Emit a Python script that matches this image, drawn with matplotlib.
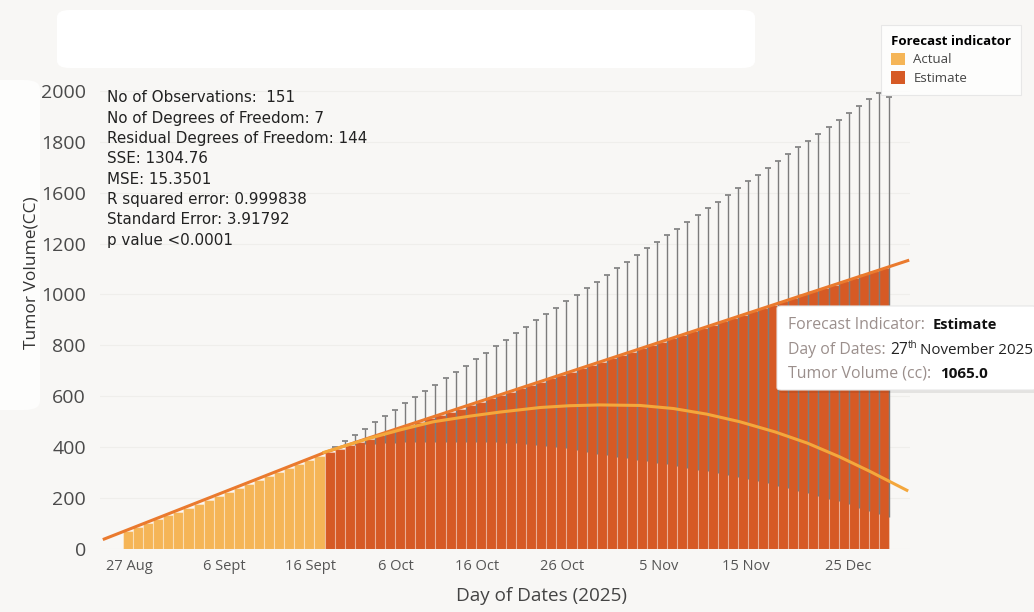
import matplotlib
matplotlib.use('Agg')
import matplotlib.pyplot as plt
import numpy as np
from matplotlib.patches import FancyBboxPatch, Patch

plt.rcParams['font.family'] = ['Open Sans', 'DejaVu Sans']

# observed tumour volume (cc), one bar per day
actual_vol = [70, 85, 101, 116, 132, 147, 163, 178, 194, 209,
              225, 240, 256, 271, 287, 302, 318, 333, 349, 364]
# forecast tumour volume (cc)
estimate_vol = [381, 394, 407, 420, 434, 447, 460, 473, 486, 499,
                513, 526, 539, 552, 565, 578, 592, 605, 618, 631,
                644, 657, 671, 684, 697, 710, 723, 736, 750, 763,
                776, 789, 802, 815, 829, 842, 855, 868, 881, 894,
                908, 921, 934, 947, 960, 973, 987, 1000, 1013, 1026,
                1039, 1052, 1065, 1079, 1092, 1105]
# forecast interval, lower and upper bound per estimate bar
err_low = [402, 406, 409, 412, 414, 416, 418, 419, 420, 421,
           422, 422, 422, 422, 421, 420, 419, 417, 415, 412,
           410, 406, 401, 395, 389, 382, 375, 369, 363, 357,
           351, 345, 339, 333, 327, 319, 312, 305, 298, 291,
           284, 276, 267, 258, 249, 239, 229, 219, 209, 198,
           188, 176, 163, 151, 138, 125]
err_high = [400, 424, 449, 473, 498, 522, 547, 572, 597, 621,
            646, 671, 696, 721, 746, 771, 796, 822, 847, 872,
            898, 923, 948, 974, 999, 1026, 1051, 1077, 1103, 1129,
            1155, 1181, 1207, 1234, 1259, 1286, 1312, 1338, 1365, 1392,
            1417, 1444, 1471, 1497, 1524, 1551, 1578, 1605, 1632, 1659,
            1686, 1713, 1740, 1768, 1790, 1775]

# fitted trend and the second model curve
trend_pos = [-2.5, 19.5, 77.5]
trend_vol = [37, 379, 1135]
curve_pos = [19.3, 21.5, 23.7, 27.0, 30.3, 33.9, 36.9, 40.9, 43.8, 46.8,
             50.8, 54.1, 57.4, 60.7, 64.2, 67.4, 70.6, 73.6, 77.4]
curve_vol = [378, 405, 432, 468, 500, 522, 538, 556, 563, 566,
             564, 552, 530, 500, 460, 416, 362, 305, 228]

tick_pos = [0.1, 9.6, 18.1, 26.6, 34.6, 43.1, 52.6, 61.3, 71.4]
tick_labels = ['27 Aug', '6 Sept', '16 Sept', '6 Oct', '16 Oct',
               '26 Oct', '5 Nov', '15 Nov', '25 Dec']
ytick_vals = [0, 200, 400, 600, 800, 1000, 1200, 1400, 1600, 1800]
ytick_labels = ['0', '200', '400', '600', '800', '1000', '1200',
                '1600', '1800', '2000']

stats = ['No of Observations:  151',
         'No of Degrees of Freedom: 7',
         'Residual Degrees of Freedom: 144',
         'SSE: 1304.76',
         'MSE: 15.3501',
         'R squared error: 0.999838',
         'Standard Error: 3.91792',
         'p value <0.0001']

c_actual = '#f5b557'
c_estimate = '#d65a25'
c_trend = '#ea7a2e'
c_curve = '#f4a73c'
c_err = '#7c7c7c'

W, H = 1034, 612
fig = plt.figure(figsize=(W / 100, H / 100), dpi=100, facecolor='#f8f7f5')


def fx(px):
    return px / W


def fy(py):
    return 1 - py / H


# white panels behind the header area and the y label
fig.patches.append(FancyBboxPatch((fx(57), fy(68)), fx(698), 58 / H,
                                  boxstyle='round,pad=0,rounding_size=0.012',
                                  transform=fig.transFigure, fc='white', ec='none', zorder=0))
fig.patches.append(FancyBboxPatch((fx(-20), fy(410)), fx(60), 330 / H,
                                  boxstyle='round,pad=0,rounding_size=0.015',
                                  transform=fig.transFigure, fc='#fdfdfc', ec='none', zorder=0))

ax = fig.add_axes([fx(100), 63 / H, fx(810), 466 / H])
ax.set_facecolor('none')
ax.set_xlim(-2.78, 77.58)
ax.set_ylim(0, 1831)

act_idx = np.arange(len(actual_vol))
est_idx = np.arange(len(actual_vol), len(actual_vol) + len(estimate_vol))

ax.bar(act_idx, actual_vol, width=1.0, color=c_actual,
       edgecolor=(1, 1, 1, 0.35), linewidth=0.8, zorder=2)
ax.bar(est_idx, estimate_vol, width=1.0, color=c_estimate,
       edgecolor=(1, 1, 1, 0.3), linewidth=0.8, zorder=2)

# forecast interval lines sit on the bar boundaries
ax.vlines(est_idx + 0.5, err_low, err_high, colors=c_err, linewidth=1.0, zorder=3)
ax.plot(est_idx + 0.5, err_high, ls='none', marker='_', ms=4, mew=1.2,
        color=c_err, zorder=3)

ax.plot(trend_pos, trend_vol, color=c_trend, lw=2.2, zorder=4,
        solid_capstyle='butt', clip_on=False)
ax.plot(curve_pos, curve_vol, color=c_curve, lw=2.2, zorder=5,
        solid_capstyle='butt', clip_on=False)

ax.grid(axis='y', color='#efeeeb', lw=0.8, zorder=0)
ax.set_axisbelow(True)
for s in ax.spines.values():
    s.set_visible(False)
ax.set_yticks(ytick_vals)
ax.set_yticklabels(ytick_labels, fontsize=14, color='#4a4a4a')
ax.set_xticks(tick_pos)
ax.set_xticklabels(tick_labels, fontsize=10.5, color='#555555')
ax.tick_params(length=0)
ax.tick_params(axis='y', pad=10)
ax.tick_params(axis='x', pad=7)

fig.text(fx(541), fy(596), 'Day of Dates (2025)', fontsize=13.6,
         color='#444444', ha='center', va='center')
fig.text(fx(32), fy(273), 'Tumor Volume(CC)', fontsize=12.5, color='#333333',
         rotation=90, ha='center', va='center')

for k, line in enumerate(stats):
    fig.text(fx(107), fy(98 + 20.3 * k), line, fontsize=10.9,
             family='DejaVu Sans', color='#222222', ha='left', va='center')

# legend
handles = [Patch(fc=c_actual, ec='none', label='Actual'),
           Patch(fc=c_estimate, ec='none', label='Estimate')]
leg = fig.legend(handles=handles, title='Forecast indicator', loc='upper left',
                 bbox_to_anchor=(fx(881), fy(25)), borderaxespad=0, fontsize=9.5,
                 title_fontproperties={'weight': 'bold', 'size': 9.5},
                 frameon=True, fancybox=False, handlelength=1.1, handleheight=1.1,
                 handletextpad=0.6, labelspacing=0.35, borderpad=0.75)
leg.get_frame().set_facecolor('white')
leg.get_frame().set_edgecolor('#e3e3e3')
leg.get_frame().set_linewidth(0.8)
leg._legend_box.align = 'left'
for t in leg.get_texts():
    t.set_color('#444444')

# hover tooltip
fig.patches.append(FancyBboxPatch((fx(779), fy(393)), fx(260), 87 / H,
                                  boxstyle='round,pad=0,rounding_size=0.004',
                                  transform=fig.transFigure, fc='#000000', alpha=0.08,
                                  ec='none', zorder=6))
fig.patches.append(FancyBboxPatch((fx(777), fy(390)), fx(260), 84 / H,
                                  boxstyle='round,pad=0,rounding_size=0.004',
                                  transform=fig.transFigure, fc='white',
                                  ec='#e6e6e6', lw=0.8, zorder=7))

grey = '#9b8f8c'
fig.text(fx(788), fy(325), 'Forecast Indicator:', fontsize=11.4,
         color=grey, va='center', zorder=8)
fig.text(fx(933), fy(325), 'Estimate', fontsize=10.5, color='#111111',
         weight='bold', va='center', zorder=8)
fig.text(fx(788), fy(350), 'Day of Dates:', fontsize=11.4,
         color=grey, va='center', zorder=8)
fig.text(fx(890), fy(350), '27', fontsize=11.2, color='#222222',
         va='center', zorder=8)
fig.text(fx(908), fy(345), 'th', fontsize=7, color='#222222',
         va='center', zorder=8)
fig.text(fx(920), fy(350), 'November 2025', fontsize=10.9, color='#222222',
         va='center', zorder=8)
fig.text(fx(788), fy(373), 'Tumor Volume (cc):', fontsize=11.4,
         color=grey, va='center', zorder=8)
fig.text(fx(940), fy(374), f'{estimate_vol[52]:.1f}', fontsize=11,
         color='#111111', weight='bold', va='center', zorder=8)

fig.savefig('out.png', dpi=100, facecolor=fig.get_facecolor())
